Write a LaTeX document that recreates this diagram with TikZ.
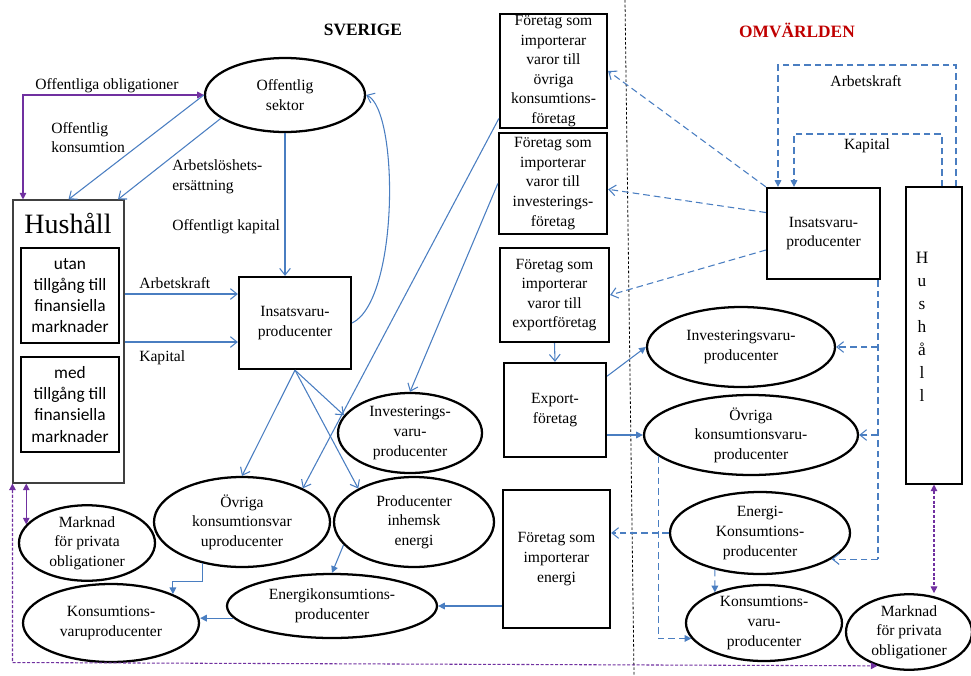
\documentclass[tikz,border=0pt]{standalone}
\usepackage{fontspec}
\setmainfont{Liberation Serif}
\newfontfamily\calib{Carlito}
\usetikzlibrary{shapes.geometric,arrows.meta,calc}
\definecolor{lblue}{RGB}{74,126,193}
\definecolor{lpurp}{RGB}{112,48,160}
\definecolor{dred}{RGB}{192,0,0}
\begin{document}
\begin{tikzpicture}[x=0.75pt,y=-0.75pt,
  txt/.style={font=\fontsize{11.7}{14.7}\selectfont, align=center},
  ell/.style 2 args={ellipse, draw, line width=1.7pt, inner sep=0pt, minimum width=#1*0.75pt, minimum height=#2*0.75pt, txt},
  bx/.style 2 args={rectangle, draw, line width=1.7pt, inner sep=0pt, minimum width=#1*0.75pt, minimum height=#2*0.75pt, txt},
  lbl/.style={font=\fontsize{11.7}{14.7}\selectfont, align=left, inner sep=0pt},
  barb/.style={-{Straight Barb[length=5pt,width=8pt]}},
  tri/.style={-{Triangle[length=5pt,width=5pt]}},
  tritri/.style={{Triangle[length=5pt,width=5pt]}-{Triangle[length=5pt,width=5pt]}},
  bl/.style={color=lblue, line width=0.8pt},
  bld/.style={bl, dash pattern=on 5pt off 3pt},
  pu/.style={color=lpurp, line width=0.8pt},
  pud/.style={pu, dash pattern=on 2.3pt off 1.3pt}]
\useasboundingbox (0,0) rectangle (971,675);

% titles
\node[font=\bfseries\fontsize{13}{15}\selectfont] (sv) at (363,30) {SVERIGE};
\node[font=\bfseries\fontsize{13}{15}\selectfont, text=dred] (om) at (797,30) {OMVÄRLDEN};

% divider
\coordinate (d1) at (625,0);
\coordinate (d2) at (634,675);
\draw[black, line width=0.6pt, dash pattern=on 2pt off 1.5pt] (d1) -- (d2);

% Sverige nodes
\node[ell={160}{74}] (os) at (285,95) {Offentlig\\sektor};
\node[draw=black!75, line width=0.8pt, minimum width=111*0.75pt, minimum height=283*0.75pt, inner sep=0pt] (hhL) at (68.5,341.5) {};
\node[font=\fontsize{21}{25}\selectfont, inner sep=0pt] (hhLt) at (68,223) {Hushåll};
\node[bx={98}{95}, font=\calib\fontsize{13}{15.8}\selectfont] (hu) at (70,295.5) {utan\\tillgång till\\finansiella\\marknader};
\node[bx={98}{95}, font=\calib\fontsize{13}{15.8}\selectfont] (hm) at (70,404.5) {med\\tillgång till\\finansiella\\marknader};
\node[bx={112}{92}] (insS) at (295,323) {Insatsvaru-\\producenter};
\node[ell={144}{80}] (invS) at (410,433) {Investerings-\\varu-\\producenter};
\node[ell={176}{90}] (ovS) at (242,522) {Övriga\\konsumtionsvar\\uproducenter};
\node[ell={160}{90}] (prod) at (414,522) {Producenter\\inhemsk\\energi};
\node[ell={136}{72}] (mkL) at (87,543) {Marknad\\för privata\\obligationer};
\node[ell={176}{78}] (konL) at (111,623) {Konsumtions-\\varuproducenter};
\node[ell={210}{64}] (ek) at (332,606) {Energikonsumtions-\\producenter};

% import/export boxes
\node[bx={107}{114}] (fb1) at (553.5,71) {Företag som\\importerar\\varor till\\övriga\\konsumtions-\\företag};
\node[bx={108}{101}] (fb2) at (553,183.5) {Företag som\\importerar\\varor till\\investerings-\\företag};
\node[bx={109}{94}] (fb3) at (554.5,295) {Företag som\\importerar\\varor till\\exportföretag};
\node[bx={102}{94}] (exp) at (555,410) {Export-\\företag};
\node[bx={107}{138}] (fbe) at (556.5,559) {Företag som\\importerar\\energi};

% Omvärlden nodes
\node[bx={113}{91}] (insO) at (823.5,233.5) {Insatsvaru-\\producenter};
\node[draw, line width=0.8pt, minimum width=56*0.75pt, minimum height=297*0.75pt, inner sep=0pt] (hhR) at (934,335.5) {};
\node[font=\fontsize{13}{17.25}\selectfont, align=center, inner sep=0pt] (hhRt) at (922,327) {H\\u\\s\\h\\å\\l\\l};
\node[ell={188}{80}] (invO) at (741,347) {Investeringsvaru-\\producenter};
\node[ell={214}{80}] (ovO) at (751,435) {Övriga\\konsumtionsvaru-\\producenter};
\node[ell={180}{82}] (ekO) at (760,533) {Energi-\\Konsumtions-\\producenter};
\node[ell={156}{76}] (konO) at (764,623) {Konsumtions-\\varu-\\producenter};
\node[ell={126}{72}] (mkR) at (909,632) {Marknad\\för privata\\obligationer};

% labels
\node[lbl] (l1) at (107,86) {Offentliga obligationer};
\node[lbl, anchor=west] (l2) at (51,137.5) {Offentlig\\konsumtion};
\node[lbl, anchor=west] (l3) at (172,176.5) {Arbetslöshets-\\ersättning};
\node[lbl, anchor=west] (l4) at (172,227) {Offentligt kapital};
\node[lbl, anchor=west] (l5) at (139,283) {Arbetskraft};
\node[lbl, anchor=west] (l6) at (139,358) {Kapital};
\node[lbl] (l7) at (866,81) {Arbetskraft};
\node[lbl] (l8) at (867,146) {Kapital};

% helper coordinates
\coordinate (pA) at (23,96);
\coordinate (pB) at (118,0);
\coordinate (yAK) at (0,294);
\coordinate (yKap) at (0,342);
\coordinate (akA) at (956,65);
\coordinate (akB) at (778,65);
\coordinate (kpA) at (942,134);
\coordinate (kpB) at (794,134);
\coordinate (vx) at (878,0);

% Sverige connectors
\draw[pu, tritri] (os.west) -| (pA |- hhL.north);
\draw[bl, barb] (os.west) -- (hhL.north);
\draw[bl, barb] (os.200) -- (pB |- hhL.north);
\draw[bl, barb] (os.south) -- (os.south |- insS.north);
\draw[bl, barb] (hhL.east |- yAK) -- (insS.west |- yAK);
\draw[bl, barb] (hhL.east |- yKap) -- (insS.west |- yKap);
\draw[bl, barb] (insS.east) .. controls +(47,-23) and +(33,15) .. (os.east);
\draw[bl, barb] (insS.south) -- (ovS.north);
\draw[bl, barb] (insS.south) -- (invS.165);
\draw[bl, barb] (insS.south) -- (prod.149);
\draw[bl, barb] (fb1.221) -- (ovS.29);
\draw[bl, barb] (fb2.west) -- (invS.north);
\draw[bl, barb] (fb3.south) -- (exp.north);
\draw[bl, tri] (exp.33) -- (invO.west);
\draw[bl, tri] (exp.east |- ovO.west) -- (ovO.west);
\draw[bl, tri] (fbe.west |- ek.east) -- (ek.east);
\draw[bl, tri] (prod.198) -- (ek.north);
\draw[bl, tri] (ek.187) -- (konL.east |- ek.187);
\draw[bl, tri] (ovS.226) -- ++(0,18) -| (konL.25);

% purple
\draw[pu, tritri] (hhL.south -| mkL.163) -- (mkL.163);
\draw[pud, tritri] (hhL.south west) -- ++(0,179) -- (mkR.227);
\draw[pud, tritri] (hhR.south) -- (hhR.south |- mkR.north);

% Omvärlden dashed connectors
\draw[bld, barb] (insO.north west) -- (fb1.east);
\draw[bld, barb] (insO.160) -- (fb2.-6);
\draw[bld, barb] (insO.196) -- (fb3.east);
\draw[bld, tri] (akA |- hhR.north) -- (akA) -- (akB) -- (akB |- insO.north);
\draw[bld, tri] (kpA |- hhR.north) -- (kpA) -- (kpB) -- (kpB |- insO.north);
\draw[bld] (vx |- insO.south) -- (vx |- ekO.-20);
\draw[bld, barb] (vx |- ekO.-20) -- (ekO.-20);
\draw[bld, barb] (vx |- invO.east) -- (invO.east);
\draw[bld, barb] (vx |- ovO.east) -- (ovO.east);
\draw[bld, barb] (ekO.west) -- (fbe.east |- ekO.west);
\draw[bld, tri] (ovO.193) |- (konO.192);
\draw[bld, tri] (ekO.219) -- (konO.148);
\end{tikzpicture}
\end{document}
